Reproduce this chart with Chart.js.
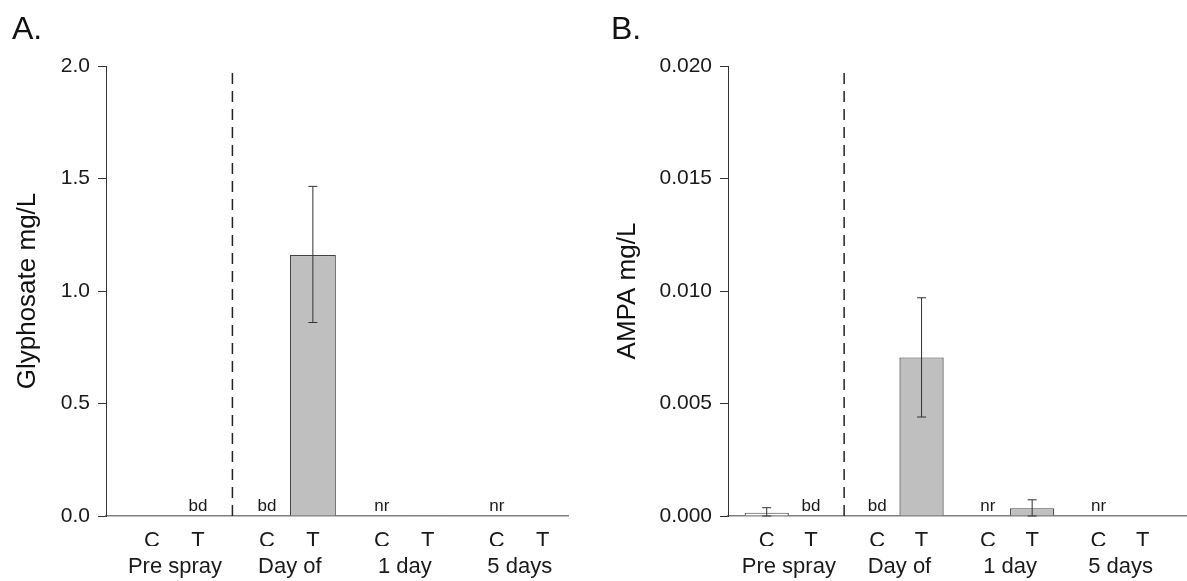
<!DOCTYPE html>
<html>
<head>
<meta charset="utf-8">
<script src="https://cdn.jsdelivr.net/npm/chart.js@4.4.1/dist/chart.umd.min.js"></script>
<style>
  body { margin: 0; background: #fff; }
  #wrap { position: relative; width: 1187px; height: 581px; overflow: hidden; background: #fff;
          font-family: 'Liberation Sans', Arial, sans-serif; }
  .panel { position: absolute; top: 0; }
  .tag { position: absolute; top: 12px; font-size: 32px; line-height: 1; color: #111; }
</style>
</head>
<body>
<div id="wrap">
  <canvas id="chartA" class="panel" width="593" height="581" style="left:0"></canvas>
  <canvas id="chartB" class="panel" width="594" height="581" style="left:593px"></canvas>
  <div class="tag" style="left:12px">A.</div>
  <div class="tag" style="left:611px">B.</div>
</div>
<script>
const groups = ['Pre spray', 'Day of', '1 day', '5 days'];
const pairLabels = ['C', 'T'];

// glyphosate, mg/L (null = bd / nr, nothing drawn)
const glyControl = [0, null, null, null];
const glyTreated = [null, 1.16, 0.005, null];
const glyTreatedLo = [null, 0.86, null, null];
const glyTreatedHi = [null, 1.465, null, null];
const glyControlNote = ['', 'bd', 'nr', 'nr'];
const glyTreatedNote = ['bd', '', '', ''];
const glyTicks = [0, 0.5, 1.0, 1.5, 2.0];

// AMPA, mg/L
const ampaControl = [0.00015, null, null, null];
const ampaControlLo = [0, null, null, null];
const ampaControlHi = [0.00037, null, null, null];
const ampaTreated = [null, 0.00705, 0.00035, null];
const ampaTreatedLo = [null, 0.0044, 0, null];
const ampaTreatedHi = [null, 0.0097, 0.00072, null];
const ampaControlNote = ['', 'bd', 'nr', 'nr'];
const ampaTreatedNote = ['bd', '', '', ''];
const ampaTicks = [0, 0.005, 0.010, 0.015, 0.020];

Chart.defaults.font.family = "'Liberation Sans', Arial, sans-serif";
Chart.defaults.color = '#1a1a1a';

const groupIdx = groups.map((g, i) => i);
const halfBar = 0.2; // bar centre offset from group centre (categoryPercentage 0.8 / 2 bars)
const pairPos = [];
groupIdx.forEach(i => { pairPos.push(i - halfBar, i + halfBar); });

// divider, error bars and bd/nr notes
const extras = {
    id: 'extras',
    afterDatasetsDraw(chart) {
        const ctx = chart.ctx;
        const area = chart.chartArea;
        const xs = chart.scales.x;
        const ys = chart.scales.y;

        ctx.save();
        const xd = xs.getPixelForValue(0.5);
        ctx.strokeStyle = '#222';
        ctx.lineWidth = 1.5;
        ctx.setLineDash([11, 7]);
        ctx.beginPath();
        ctx.moveTo(xd, area.bottom);
        ctx.lineTo(xd, area.top);
        ctx.stroke();
        ctx.setLineDash([]);

        chart.data.datasets.forEach((ds, di) => {
            const meta = chart.getDatasetMeta(di);
            meta.data.forEach((bar, i) => {
                if (ds.hi && ds.hi[i] != null) {
                    const yh = ys.getPixelForValue(ds.hi[i]);
                    const yl = ys.getPixelForValue(ds.lo[i]);
                    ctx.strokeStyle = '#333';
                    ctx.lineWidth = 1;
                    ctx.beginPath();
                    ctx.moveTo(bar.x, yh); ctx.lineTo(bar.x, yl);
                    ctx.moveTo(bar.x - 4.5, yh); ctx.lineTo(bar.x + 4.5, yh);
                    ctx.moveTo(bar.x - 4.5, yl); ctx.lineTo(bar.x + 4.5, yl);
                    ctx.stroke();
                }
                if (ds.notes && ds.notes[i]) {
                    ctx.fillStyle = '#1a1a1a';
                    ctx.font = "17px 'Liberation Sans', Arial, sans-serif";
                    ctx.textAlign = 'center';
                    ctx.textBaseline = 'alphabetic';
                    ctx.fillText(ds.notes[i], bar.x, area.bottom - 5);
                }
            });
        });
        ctx.restore();
    }
};

function makeChart(id, cfg) {
    const data = {
        labels: groupIdx,
        datasets: [
            {
                label: 'C',
                data: cfg.control,
                lo: cfg.controlLo,
                hi: cfg.controlHi,
                notes: cfg.controlNote,
                xAxisID: 'x',
                backgroundColor: '#ffffff',
                borderColor: '#444',
                borderWidth: 1.2,
                categoryPercentage: 0.8,
                barPercentage: 1
            },
            {
                label: 'T',
                data: cfg.treated,
                lo: cfg.treatedLo,
                hi: cfg.treatedHi,
                notes: cfg.treatedNote,
                xAxisID: 'x',
                backgroundColor: '#bfbfbf',
                borderColor: '#444',
                borderWidth: 1.2,
                categoryPercentage: 0.8,
                barPercentage: 1
            }
        ]
    };

    const config = {
        type: 'bar',
        data: data,
        plugins: [extras],
        options: {
            responsive: false,
            animation: false,
            layout: {
                padding: { top: 66, right: cfg.padRight, bottom: 0, left: 0 }
            },
            plugins: {
                legend: { display: false },
                tooltip: { enabled: false }
            },
            scales: {
                x: {
                    type: 'linear',
                    position: 'bottom',
                    weight: 1,
                    offset: false,
                    min: cfg.xMin,
                    max: cfg.xMax,
                    afterBuildTicks: a => { a.ticks = groupIdx.map(v => ({ value: v })); },
                    afterFit: a => { a.height = 35; },
                    ticks: {
                        autoSkip: false,
                        maxRotation: 0,
                        padding: 0,
                        font: { size: 22 },
                        callback: (v, i) => groups[i]
                    },
                    grid: { display: false },
                    border: { display: false }
                },
                xPair: {
                    type: 'linear',
                    position: 'bottom',
                    weight: 0,
                    offset: false,
                    min: cfg.xMin,
                    max: cfg.xMax,
                    afterBuildTicks: a => { a.ticks = pairPos.map(v => ({ value: v })); },
                    afterFit: a => { a.height = 30; },
                    ticks: {
                        autoSkip: false,
                        maxRotation: 0,
                        padding: 4,
                        font: { size: 22 },
                        callback: (v, i) => pairLabels[i % 2]
                    },
                    grid: { display: false },
                    border: { display: true, color: '#808080', width: 1.5 }
                },
                y: {
                    min: 0,
                    max: cfg.yTicks[cfg.yTicks.length - 1],
                    afterBuildTicks: a => { a.ticks = cfg.yTicks.map(v => ({ value: v })); },
                    afterFit: a => { a.width = cfg.yWidth; },
                    ticks: {
                        padding: 8,
                        font: { size: 21 },
                        callback: v => v.toFixed(cfg.digits)
                    },
                    grid: {
                        drawOnChartArea: false,
                        drawTicks: true,
                        tickLength: 8,
                        color: '#333'
                    },
                    border: { display: true, color: '#333', width: 1 },
                    title: {
                        display: true,
                        text: cfg.title,
                        font: { size: 26 },
                        color: '#111',
                        padding: { top: cfg.titlePad, bottom: 0 }
                    }
                }
            }
        }
    };

    return new Chart(document.getElementById(id), config);
}

makeChart('chartA', {
    control: glyControl, controlLo: null, controlHi: null, controlNote: glyControlNote,
    treated: glyTreated, treatedLo: glyTreatedLo, treatedHi: glyTreatedHi, treatedNote: glyTreatedNote,
    yTicks: glyTicks, digits: 1, title: 'Glyphosate mg/L',
    xMin: -0.6, xMax: 3.42, yWidth: 106, padRight: 25, titlePad: 12
});

makeChart('chartB', {
    control: ampaControl, controlLo: ampaControlLo, controlHi: ampaControlHi, controlNote: ampaControlNote,
    treated: ampaTreated, treatedLo: ampaTreatedLo, treatedHi: ampaTreatedHi, treatedNote: ampaTreatedNote,
    yTicks: ampaTicks, digits: 3, title: 'AMPA mg/L',
    xMin: -0.55, xMax: 3.6, yWidth: 135, padRight: 0, titlePad: 19
});
</script>
</body>
</html>
